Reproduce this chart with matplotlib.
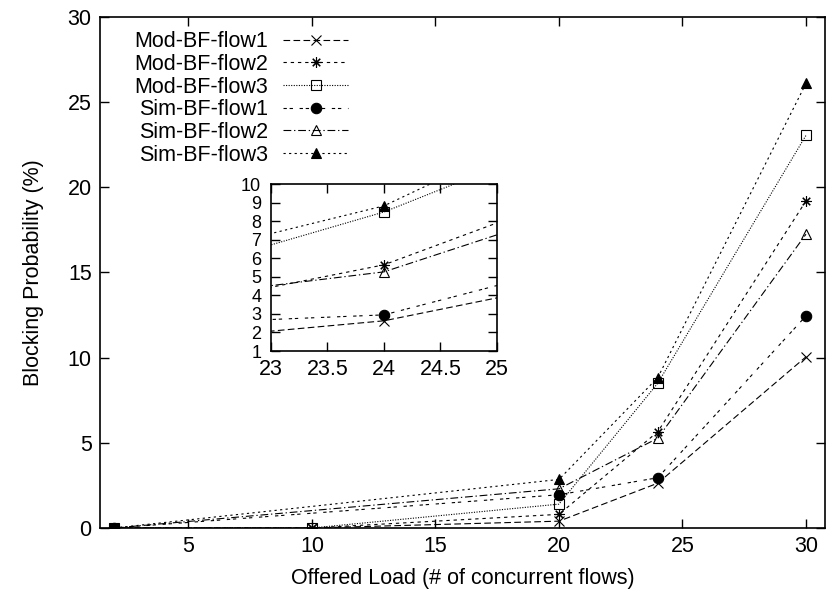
import matplotlib
matplotlib.use('Agg')
import matplotlib.pyplot as plt

plt.rcParams['font.family'] = ['Liberation Sans', 'DejaVu Sans']
plt.rcParams['font.size'] = 15.5

# offered load values
x_mod = [2, 10, 20, 24, 30]
x_sim = [2, 20, 24, 30]

# blocking probability (%)
mod_flow1 = [0, 0, 0.4, 2.63, 10.05]
mod_flow2 = [0, 0, 0.8, 5.65, 19.2]
mod_flow3 = [0, 0, 1.4, 8.5, 23.05]
sim_flow1 = [0, 1.95, 2.95, 12.45]
sim_flow2 = [0, 2.3, 5.27, 17.25]
sim_flow3 = [0, 2.85, 8.83, 26.1]

labels = ['Mod-BF-flow1', 'Mod-BF-flow2', 'Mod-BF-flow3',
          'Sim-BF-flow1', 'Sim-BF-flow2', 'Sim-BF-flow3']
xs = [x_mod, x_mod, x_mod, x_sim, x_sim, x_sim]
ys = [mod_flow1, mod_flow2, mod_flow3, sim_flow1, sim_flow2, sim_flow3]

# gnuplot-like styles: (marker, fill, dash pattern)
styles = [
    ('x', 'none', (0, (6, 3))),
    ((8, 2, 0), 'none', (0, (3, 3.5))),
    ('s', 'none', (0, (1, 1.3))),
    ('o', 'black', (0, (3, 2.5, 3, 6))),
    ('^', 'none', (0, (7, 2.5, 1.2, 2.5))),
    ('^', 'black', (0, (2, 3))),
]


def draw_series(ax, with_labels):
    for i in range(len(ys)):
        marker, fill, dash = styles[i]
        ax.plot(xs[i], ys[i], color='black', linewidth=0.8, linestyle=dash,
                marker=marker, markersize=7.5, markerfacecolor=fill,
                markeredgecolor='black', markeredgewidth=0.8,
                label=labels[i] if with_labels else None)


def style_axes(ax, ypad):
    for s in ax.spines.values():
        s.set_linewidth(1.2)
    ax.tick_params(direction='in', length=6.5, width=1.0, top=True, right=True)
    ax.tick_params(axis='x', pad=6)
    ax.tick_params(axis='y', pad=ypad)


fig = plt.figure(figsize=(8.26, 5.98), dpi=100)
ax = fig.add_axes([0.1211, 0.1171, 0.8777, 0.8545])
draw_series(ax, True)
ax.set_xlim(1.42, 30.77)
ax.set_ylim(0, 30)
ax.set_xticks([5, 10, 15, 20, 25, 30])
ax.set_yticks([0, 5, 10, 15, 20, 25, 30])
style_axes(ax, 6)
ax.set_xlabel('Offered Load (# of concurrent flows)', labelpad=8)
ax.set_ylabel('Blocking Probability (%)', labelpad=17)

leg = ax.legend(loc='upper right', bbox_to_anchor=(0.4213, 0.948),
                bbox_transform=fig.transFigure, frameon=False,
                markerfirst=False, handlelength=3.0, handletextpad=0.7,
                labelspacing=0.08, borderpad=0, borderaxespad=0, numpoints=1)

# zoomed inset
axin = fig.add_axes([0.328, 0.413, 0.2736, 0.279])
draw_series(axin, False)
axin.set_xlim(23, 25)
axin.set_ylim(1, 10)
axin.set_xticks([23, 23.5, 24, 24.5, 25])
axin.set_xticklabels(['23', '23.5', '24', '24.5', '25'])
axin.set_yticks(list(range(1, 11)))
style_axes(axin, 7)
axin.tick_params(axis='y', labelsize=13)

fig.savefig('out.png', dpi=100)
